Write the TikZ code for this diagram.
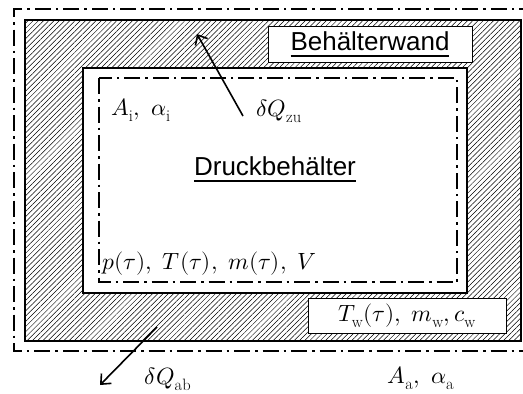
\documentclass[tikz,border=0pt]{standalone}
\usepackage{fontspec}
\usepackage{unicode-math}
\setmathfont{Latin Modern Math}
\setsansfont{Liberation Sans}
\usetikzlibrary{arrows.meta,patterns.meta}
\newcommand{\ulinetext}[1]{\setbox0\hbox{#1}\rlap{\rule[-6.5pt]{\wd0}{1.6pt}}\box0}
\tikzset{
  hatch/.style={pattern={Lines[angle=45,distance=3.7pt,line width=0.5pt]}, pattern color=black},
  frame/.style={draw=black, line width=1.6pt},
  vessel/.style={frame, fill=white},
  border/.style={line width=1.6pt, dash pattern=on 16pt off 5pt on 2.5pt off 5pt},
  tag/.style={draw=black, line width=0.9pt, fill=white, inner sep=0pt},
  heading/.style={font=\sffamily\fontsize{26}{30}\selectfont},
  formula/.style={font=\fontsize{23.5}{28}\selectfont, inner sep=0pt},
  heat/.style={-{Straight Barb[length=8pt,width=14pt]}, line width=1.6pt},
}
\begin{document}
\begin{tikzpicture}[x=1pt, y=-1pt]
  \useasboundingbox (0,0) rectangle (523,394);
  \clip (0,0) rectangle (523,394);
  % outer system boundary
  \draw[border] (535,9) -- (14,9) -- (14,351) -- (535,351);
  % wall and vessel
  \path[hatch] (25,20) rectangle (521,341);
  \draw[frame] (25,20) rectangle (521,341);
  \draw[vessel] (83,68) rectangle (467,293);
  \draw[border] (99,78) rectangle (457,282);
  % labels
  \node[tag, heading, minimum width=204pt, minimum height=36pt] (wandtag) at (370,44) {\ulinetext{Behälterwand}};
  \node[heading] (vesseltxt) at (275,169) {\ulinetext{Druckbehälter}};
  \node[formula] (innertxt) at (141,110) {$A_\mathrm{i},\ \alpha_\mathrm{i}$};
  \node[formula, anchor=west] (statetxt) at (102,264) {$p(\tau),\ T(\tau),\ m(\tau),\ V$};
  \node[tag, formula, minimum width=198pt, minimum height=35pt] (walltag) at (407,315.5) {$T_\mathrm{w}(\tau),\ m_\mathrm{w}, c_\mathrm{w}$};
  \node[formula] (outertxt) at (421,378) {$A_\mathrm{a},\ \alpha_\mathrm{a}$};
  % heat flows
  \coordinate (zutail) at (243,116);
  \coordinate (zutip) at (197,34);
  \draw[heat] (zutail) -- (zutip);
  \node[formula] (zutxt) at (279,111) {$\delta Q_\mathrm{zu}$};
  \coordinate (abtail) at (157,327);
  \coordinate (abtip) at (100,385);
  \draw[heat] (abtail) -- (abtip);
  \node[formula] (abtxt) at (168,379) {$\delta Q_\mathrm{ab}$};
\end{tikzpicture}
\end{document}
